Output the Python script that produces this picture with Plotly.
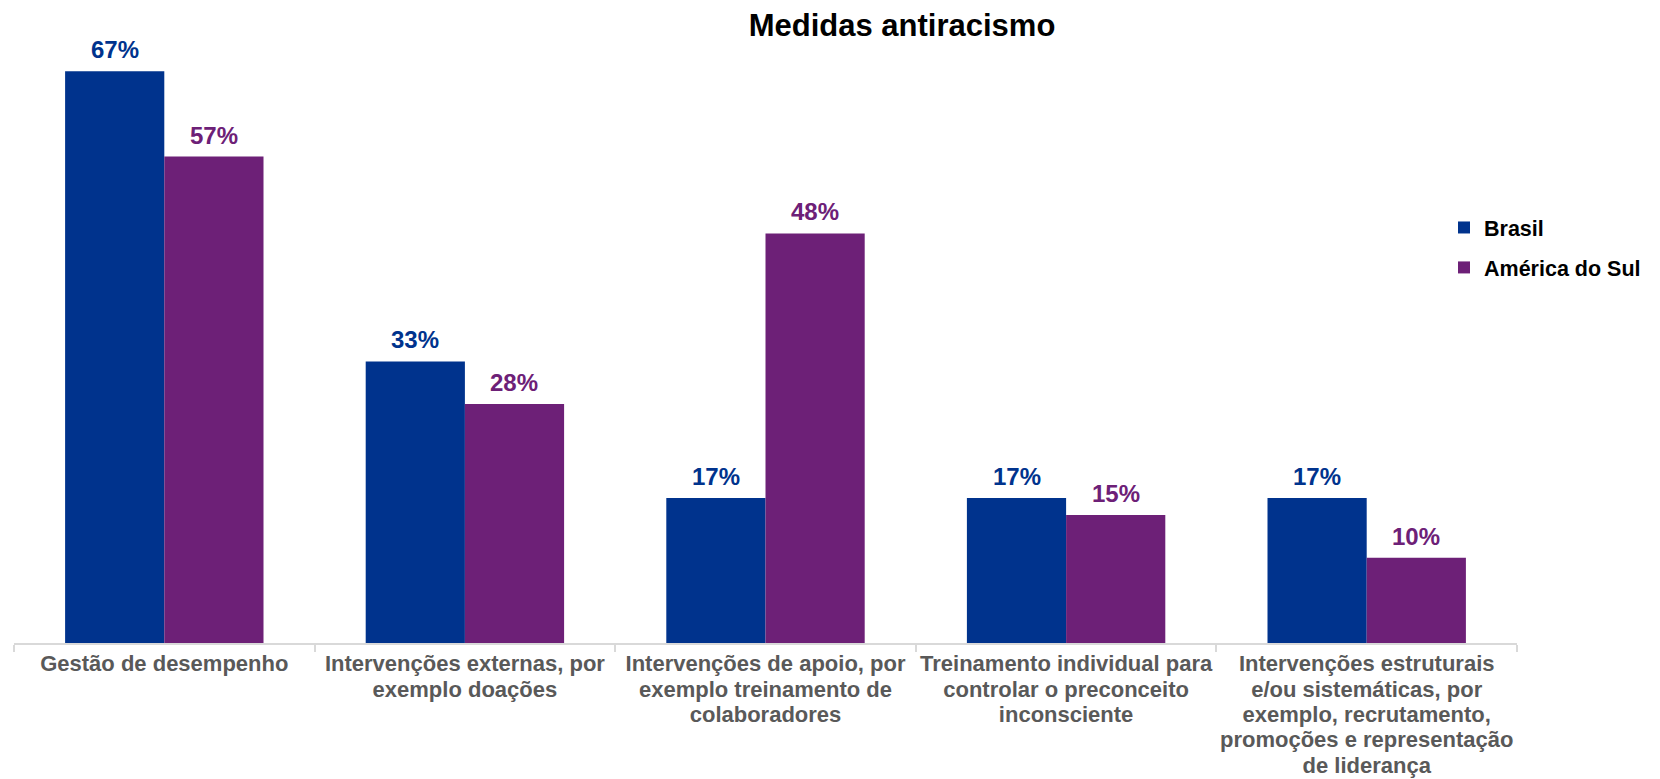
import plotly.graph_objects as go

# Survey data: share of companies adopting each anti-racism measure
categories = [
    "Gestão de desempenho",
    "Intervenções externas, por<br>exemplo doações",
    "Intervenções de apoio, por<br>exemplo treinamento de<br>colaboradores",
    "Treinamento individual para<br>controlar o preconceito<br>inconsciente",
    "Intervenções estruturais<br>e/ou sistemáticas, por<br>exemplo, recrutamento,<br>promoções e representação<br>de liderança",
]
brasil = [67, 33, 17, 17, 17]
america_do_sul = [57, 28, 48, 15, 10]

series_names = ["Brasil", "América do Sul"]
series_colors = ["#00338D", "#6D2077"]

W, H = 1660, 779
margin = dict(l=14, r=143, t=40, b=136)
bargap = 0.34
plot_w = W - margin["l"] - margin["r"]
plot_h = H - margin["t"] - margin["b"]


def tick_label(text, size=22):
    # Larger glyphs inside each line while keeping the tighter line pitch of the axis font
    return "<br>".join(
        f"<span style='font-size:{size}px'>{line}</span>" for line in text.split("<br>")
    )


fig = go.Figure()
for name, vals, col in zip(series_names, [brasil, america_do_sul], series_colors):
    fig.add_trace(go.Bar(
        x=categories, y=vals, name=name, marker_color=col,
        marker_line_width=0, legendgroup=name,
    ))

# Value labels above each bar
bar_w = plot_w / len(categories) * (1 - bargap) / 2
for i, (vals, col) in enumerate(zip([brasil, america_do_sul], series_colors)):
    shift = (-0.5 if i == 0 else 0.5) * bar_w
    for cat, v in zip(categories, vals):
        fig.add_annotation(
            x=cat, y=v, text=f"{v}%", showarrow=False,
            xshift=shift, yshift=21.5, yanchor="middle",
            font=dict(family="Liberation Sans, Arial, sans-serif", size=24, color=col, weight="bold"),
        )

# Legend sits inside the plotting area so it does not push the margins
legend_left_px, legend_top_px = 1444, 207
fig.update_layout(
    width=W, height=H,
    margin=margin,
    paper_bgcolor="white", plot_bgcolor="white",
    barmode="group", bargap=bargap, bargroupgap=0,
    font=dict(family="Liberation Sans, Arial, sans-serif"),
    title=dict(
        text="<b>Medidas antiracismo</b>",
        x=902 / W, xref="container", xanchor="center",
        y=1 - 25 / H, yref="container", yanchor="middle",
        font=dict(size=31, color="#000000"),
    ),
    legend=dict(
        x=(legend_left_px - margin["l"]) / plot_w, xanchor="left",
        y=(H - margin["b"] - legend_top_px) / plot_h, yanchor="top",
        font=dict(size=21.5, color="#000000", weight="bold"),
        tracegroupgap=9, bgcolor="rgba(0,0,0,0)",
    ),
    showlegend=True,
)
fig.update_xaxes(
    tickmode="array", tickvals=categories, ticktext=[tick_label(c) for c in categories],
    showline=True, linecolor="#D9D9D9", linewidth=1.5,
    ticks="outside", tickson="boundaries", ticklen=7, tickcolor="#D9D9D9", tickwidth=1.5,
    tickfont=dict(size=19.5, color="#595959", weight="bold"),
    tickangle=0, automargin=False,
    ticklabelstandoff=3,
    showgrid=False, fixedrange=True,
)
fig.update_yaxes(
    range=[0, 70.66], showticklabels=False, showgrid=False, zeroline=False,
    showline=False, ticks="", automargin=False,
)

fig.write_html("out.html")
